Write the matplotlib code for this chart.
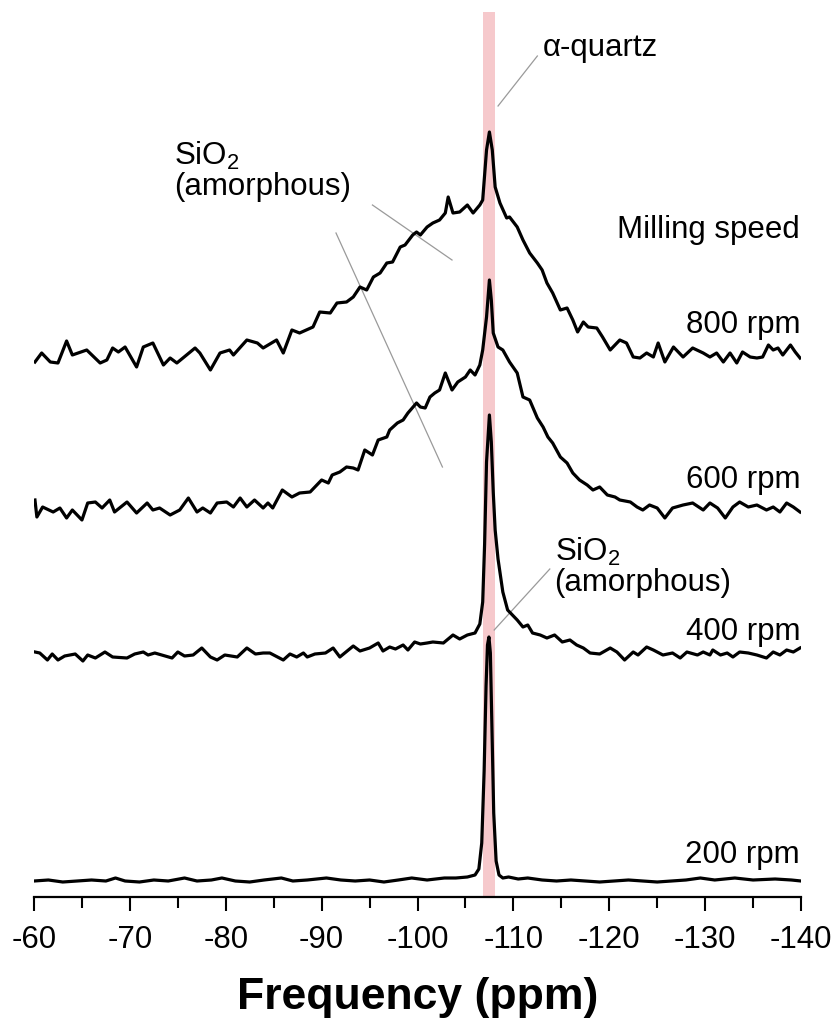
import matplotlib
matplotlib.use("Agg")
import matplotlib.pyplot as plt

plt.rcParams['font.family'] = ['Liberation Sans', 'DejaVu Sans']
plt.rcParams['mathtext.fontset'] = 'custom'
plt.rcParams['mathtext.rm'] = 'Liberation Sans'
plt.rcParams['mathtext.it'] = 'Liberation Sans:italic'

# ---------------- 29Si spectra (intensity in a.u., above each trace baseline) ----------------
ppm_800 = [
    -60.1, -60.8, -61.7, -62.5, -63.4, -64.0, -65.5, -66.9, -67.6, -68.2,
    -68.8, -69.5, -70.7, -71.4, -72.4, -73.5, -74.2, -74.9, -76.8, -77.3,
    -78.4, -79.4, -80.4, -80.8, -82.2, -83.3, -83.9, -85.3, -86.0, -86.9,
    -87.7, -89.1, -89.8, -90.9, -91.6, -92.6, -93.3, -94.0, -94.7, -95.4,
    -96.1, -96.8, -97.4, -98.2, -98.7, -99.5, -99.9, -100.3, -101.0, -101.6,
    -102.3, -102.9, -103.2, -103.7, -104.4, -105.2, -105.8, -106.5, -106.8, -107.2,
    -107.5, -107.8, -108.1, -108.6, -109.3, -109.6, -110.4, -111.0, -111.7, -112.5,
    -113.0, -113.5, -114.1, -114.9, -115.6, -116.2, -116.7, -117.3, -117.8, -118.7,
    -119.3, -120.1, -121.1, -121.8, -122.5, -123.2, -123.9, -124.6, -125.1, -125.8,
    -126.7, -127.7, -128.7, -129.8, -130.5, -131.2, -131.9, -132.6, -133.3, -133.9,
    -134.7, -135.4, -136.0, -136.6, -137.1, -137.6, -138.1, -138.9, -139.4, -139.9,
]
int_800 = [
    -2, 7, -2, -3, 19, 5, 10, -3, 0, 12,
    8, 13, -7, 13, 17, -5, 2, -3, 12, 7,
    -10, 7, 10, 5, 20, 17, 12, 20, 7, 30,
    27, 33, 48, 47, 57, 58, 63, 73, 70, 83,
    87, 97, 98, 113, 115, 125, 128, 125, 133, 137,
    140, 147, 163, 147, 148, 155, 147, 155, 160, 210,
    228, 210, 173, 157, 142, 143, 133, 120, 107, 97,
    90, 77, 67, 50, 52, 40, 28, 38, 33, 32,
    23, 10, 20, 17, 3, 2, 7, 3, 17, -2,
    13, 3, 12, 7, 3, 7, -2, 7, -3, 8,
    3, 2, 3, 15, 10, 12, 5, 15, 8, 2,
]

ppm_600 = [
    -60.1, -60.3, -60.9, -62.0, -62.7, -63.4, -64.0, -65.0, -65.6, -66.4,
    -67.1, -67.9, -68.4, -69.7, -70.7, -71.8, -72.4, -73.1, -74.2, -75.2,
    -76.1, -77.0, -77.6, -78.4, -79.1, -80.1, -80.8, -81.5, -82.2, -83.0,
    -83.9, -84.4, -84.9, -85.9, -86.9, -87.7, -88.8, -89.3, -90.0, -90.7,
    -91.1, -91.9, -92.6, -93.3, -93.8, -94.5, -95.3, -95.9, -96.8, -97.1,
    -97.9, -98.5, -99.0, -99.9, -100.3, -100.8, -101.3, -101.8, -102.3, -102.9,
    -103.6, -104.2, -105.0, -105.5, -106.0, -106.5, -106.8, -107.2, -107.5, -107.7,
    -107.9, -108.4, -108.9, -109.6, -110.4, -111.0, -111.7, -112.5, -113.1, -113.6,
    -114.1, -114.9, -115.6, -116.2, -116.9, -117.7, -118.3, -119.0, -119.8, -120.6,
    -121.1, -122.2, -122.9, -123.5, -124.2, -125.0, -125.8, -126.6, -127.7, -128.7,
    -129.8, -130.5, -131.3, -132.1, -132.9, -133.6, -134.5, -135.4, -136.4, -137.1,
    -137.8, -138.5, -139.2, -139.9,
]
int_600 = [
    8, -9, 1, -4, 0, -10, -2, -12, 5, 6,
    0, 8, -4, 6, -5, 5, -2, 0, -7, -2,
    10, -4, 0, -5, 5, 6, 1, 10, 1, 8,
    0, 5, 0, 18, 11, 15, 16, 21, 28, 25,
    33, 36, 41, 40, 38, 58, 53, 68, 71, 78,
    85, 88, 95, 105, 101, 100, 111, 115, 118, 135,
    118, 126, 131, 138, 133, 143, 158, 191, 228, 208,
    175, 161, 158, 146, 135, 111, 108, 90, 81, 71,
    65, 51, 45, 35, 28, 23, 18, 21, 13, 11,
    8, 6, 1, -2, 3, 0, -10, 0, 3, 5,
    -2, 5, 0, -10, 1, 6, 1, 3, -2, 1,
    -4, 5, 1, -4,
]

ppm_400 = [
    -60.1, -60.6, -61.4, -61.9, -62.5, -63.2, -64.3, -65.1, -65.6, -66.4,
    -67.4, -68.2, -69.7, -70.5, -71.4, -71.9, -72.6, -74.4, -75.0, -75.7,
    -76.6, -77.5, -78.4, -79.1, -79.9, -81.2, -82.2, -83.1, -83.9, -84.6,
    -86.0, -86.7, -87.4, -88.1, -88.5, -89.3, -90.4, -91.2, -91.9, -93.3,
    -94.0, -95.0, -95.9, -96.4, -97.1, -97.7, -98.5, -99.0, -99.7, -100.3,
    -101.0, -101.6, -102.7, -103.7, -104.4, -105.2, -106.0, -106.5, -106.8, -107.0,
    -107.2, -107.5, -107.7, -107.9, -108.1, -108.4, -108.9, -109.4, -110.4, -111.0,
    -111.5, -112.0, -112.8, -113.5, -114.3, -115.1, -115.9, -116.6, -117.3, -118.0,
    -119.0, -120.1, -120.8, -121.6, -122.5, -123.0, -123.9, -124.6, -125.6, -126.6,
    -127.4, -128.1, -129.2, -129.8, -130.5, -130.8, -131.6, -132.3, -132.9, -133.6,
    -134.5, -135.4, -136.4, -137.1, -137.8, -138.5, -139.2, -139.9,
]
int_400 = [
    2, 1, -6, 0, -6, -2, 0, -7, -1, -4,
    2, -3, -4, 0, 2, -1, 1, -4, 2, -2,
    -1, 6, -3, -6, -1, -3, 6, 0, 1, 1,
    -6, 0, -3, 1, -3, 0, 1, 6, -3, 8,
    3, 6, 11, 3, 7, 5, 9, 4, 12, 10,
    11, 12, 11, 19, 15, 19, 21, 30, 52, 110,
    192, 239, 212, 162, 124, 95, 62, 44, 34, 27,
    29, 21, 19, 16, 19, 12, 14, 9, 6, 1,
    0, 6, 2, -6, 2, -1, 7, 4, -1, 1,
    -4, 2, -1, 2, -1, 4, -1, 1, -3, 2,
    1, -1, -4, 2, -1, 4, 2, 6,
]

ppm_200 = [
    -60.0, -61.5, -63.0, -64.5, -66.0, -67.5, -68.5, -69.5, -71.0, -72.5,
    -74.0, -75.7, -77.0, -78.5, -79.6, -81.0, -82.5, -84.0, -85.8, -87.0,
    -88.5, -90.5, -92.0, -93.5, -95.0, -96.5, -98.0, -99.4, -101.0, -102.8,
    -104.0, -105.2, -106.0, -106.4, -106.7, -106.95, -107.15, -107.3, -107.45, -107.6,
    -107.75, -107.95, -108.2, -108.5, -108.9, -109.5, -110.5, -111.5, -113.0, -114.5,
    -116.0, -117.5, -119.0, -120.5, -122.0, -123.5, -125.0, -126.5, -128.0, -129.5,
    -131.0, -133.1, -135.0, -137.3, -139.0, -140.0,
]
int_200 = [
    0, 1, -1, 0, 1, 0, 3, 0, -1, 1,
    0, 3, 0, 1, 3, 0, -1, 1, 3, 0,
    1, 3, 1, 0, 1, -1, 1, 3, 1, 3,
    3, 4, 6, 12, 38, 110, 195, 236, 244, 228,
    160, 68, 20, 6, 3, 4, 2, 3, 1, 0,
    1, 0, -1, 0, 1, 0, -1, 0, 1, 3,
    1, 3, 1, 2, 1, 0,
]

speeds = ['800 rpm', '600 rpm', '400 rpm', '200 rpm']
offsets = [537, 389, 243, 16]          # vertical stacking of the traces
label_y = [572, 417, 265, 42]
quartz_band = (-106.8, -108.1)

spectra = [(ppm_800, int_800), (ppm_600, int_600), (ppm_400, int_400), (ppm_200, int_200)]

fig = plt.figure(figsize=(8.38, 10.29), dpi=100)
ax = fig.add_axes([34 / 838, 132 / 1029, 767 / 838, 897 / 1029])
ax.set_xlim(-60, -140)
ax.set_ylim(0, 897)

# alpha-quartz position
ax.axvspan(quartz_band[0], quartz_band[1], ymin=0, ymax=885 / 897,
           color='#f6c9cc', lw=0, zorder=0)

for (x, y), off in zip(spectra, offsets):
    ax.plot(x, [v + off for v in y], color='black', lw=2.3,
            solid_joinstyle='round', zorder=3)

fs = 22.5
for lab, yy in zip(speeds, label_y):
    ax.text(-139.9, yy, lab, ha='right', va='center', fontsize=fs)
ax.text(-139.9, 667, 'Milling speed', ha='right', va='center', fontsize=fs)

# annotations
grey = '#9a9a9a'
ax.plot([-108.4, -112.5], [791, 841], color=grey, lw=0.9)
ax.text(-113.1, 849, 'α-quartz', ha='left', va='center', fontsize=fs)

ax.plot([-95.3, -103.6], [692, 637], color=grey, lw=0.9)
ax.plot([-91.5, -102.6], [664, 430], color=grey, lw=0.9)
ax.text(-74.6, 726, 'SiO$_2$\n(amorphous)', ha='left', va='center',
        fontsize=fs, linespacing=1.0)

ax.plot([-113.8, -108.0], [328, 267], color=grey, lw=0.9)
ax.text(-114.3, 330, 'SiO$_2$\n(amorphous)', ha='left', va='center',
        fontsize=fs, linespacing=1.0)

for s in ['left', 'right', 'top']:
    ax.spines[s].set_visible(False)
ax.spines['bottom'].set_linewidth(1.6)
ax.set_yticks([])
ax.set_xticks(range(-60, -141, -10))
ax.set_xticks(range(-65, -140, -10), minor=True)
ax.set_xticklabels([str(v) for v in range(-60, -141, -10)])
ax.tick_params(axis='x', which='major', length=10, width=1.5, labelsize=fs, pad=10)
ax.tick_params(axis='x', which='minor', length=8, width=1.5)
ax.set_xlabel('Frequency (ppm)', fontsize=32, fontweight='bold', labelpad=16)

fig.savefig('out.png', dpi=100)
